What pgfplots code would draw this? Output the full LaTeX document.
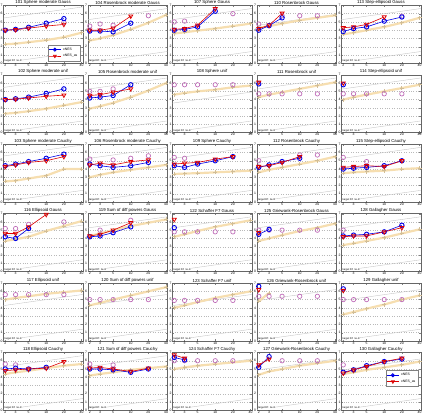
\documentclass[border=0pt]{standalone}
\usepackage{fontspec}
\setmainfont{Liberation Sans}
\usepackage{pgfplots}
\pgfplotsset{compat=1.18}
\usepgfplotslibrary{groupplots}
\definecolor{cblue}{RGB}{0,0,230}
\definecolor{cred}{RGB}{220,0,0}
\definecolor{cwheat}{RGB}{246,222,176}
\definecolor{chol}{RGB}{170,60,160}
\newcommand{\pG}[2]{\addplot[gray!45, thin, forget plot] coordinates {(1.85,0.07)(42,1.42)};
  \addplot[gray!45, thin, forget plot] coordinates {(1.85,#1)(42,#2)};}
\newcommand{\pW}[1]{\addplot[cwheat, line width=2.2pt, mark=+, mark size=2pt, mark options={solid, line width=0.8pt, color=cwheat!85!black}, forget plot] coordinates {#1};}
\newcommand{\pH}[1]{\addplot[only marks, mark=o, mark size=2.2pt, chol!75, line width=0.7pt, forget plot] coordinates {#1};}
\newcommand{\pB}[1]{\addplot[cblue, line width=0.6pt, mark=o, mark size=2.2pt, mark options={solid, line width=0.9pt}] coordinates {#1};}
\newcommand{\pR}[1]{\addplot[cred, line width=0.6pt, mark=triangle, mark size=2.3pt, mark options={solid, rotate=180, line width=0.8pt}] coordinates {#1};}
\newcommand{\pT}{\node[anchor=south west, inner sep=0.3pt, font=\fontsize{2.6}{3}\selectfont, fill=white] at (rel axis cs:0.01,0.005) {target Df: 1e-8};}
\begin{document}
\begin{tikzpicture}
\begin{groupplot}[
  group style={group size=5 by 6, horizontal sep=5bp, vertical sep=11.5bp},
  scale only axis, width=79bp, height=57.5bp,
  xmode=log, xmin=1.85, xmax=42, ymin=0, ymax=7,
  xtick={2,3,5,10,20,40}, xticklabels={2,3,5,10,20,40},
  ytick={0,1,2,3,4,5,6,7}, minor xtick={},
  /pgf/number format/assume math mode=true,
  tick label style={font=\fontsize{3.4}{4}\selectfont, inner sep=0.6pt},
  title style={font=\fontsize{4.3}{5}\selectfont, inner sep=0.4pt, yshift=-5.6pt},
  ymajorgrids, major grid style={gray!55, dotted, thin},
  tick align=inside, major tick length=1.5pt,
  axis line style={gray!80!black, thin},
  legend style={font=\fontsize{3.4}{4}\selectfont, inner sep=0.8pt, row sep=-1.5pt, legend cell align=left, draw=gray},
  legend image post style={scale=0.7},
]
% ---------- Row 1
\nextgroupplot[title={101 Sphere moderate Gauss}, legend style={at={(0.97,0.04)}, anchor=south east}]
\pG{5.47}{6.82}
\pW{(2,2.3)(3,2.37)(5,2.55)(10,2.8)(20,3.15)(40,3.7)}
\pH{(20,4.95)}
\pB{(2,4.0)(3,4.1)(5,4.35)(10,4.85)(20,5.4)}
\pR{(2,4.0)(3,4.05)(5,4.25)(10,4.5)(20,4.7)}
\legend{xNES, xNES\_as}
\pT
\nextgroupplot[title={104 Rosenbrock moderate Gauss}]
\pG{5.27}{6.62}
\pW{(2,2.75)(3,3.0)(5,3.4)(10,4.1)(20,4.9)(40,5.85)}
\pH{(2,4.5)(3,4.75)(5,4.6)(20,5.75)}
\pB{(2,3.9)(3,3.9)(5,3.8)(10,4.85)}
\pR{(2,4.0)(3,4.0)(5,4.25)(10,5.7)}
\pT
\nextgroupplot[title={107 Sphere Gauss}]
\pG{5.27}{6.62}
\pW{(2,3.6)(3,3.75)(5,3.95)(10,4.2)(20,4.5)(40,4.8)}
\pH{(2,5.0)(3,5.1)(20,6.0)}
\pB{(2,4.0)(3,4.1)(5,4.4)(10,6.3)}
\pR{(2,4.1)(3,4.2)(5,4.6)(10,6.6)}
\pT
\nextgroupplot[title={110 Rosenbrock Gauss}]
\pG{4.57}{5.92}
\pW{(2,4.3)(3,4.5)(5,4.8)(10,5.2)(20,5.5)(40,5.8)}
\pH{(2,4.75)(5,5.75)(10,5.75)(20,5.75)}
\pB{(2,4.0)(3,4.55)(5,5.5)}
\pR{(2,4.2)(3,4.6)(5,6.05)}
\pT
\nextgroupplot[title={113 Step-ellipsoid Gauss}]
\pG{5.27}{6.62}
\pW{(2,3.5)(3,3.7)(5,4.0)(10,4.4)(20,4.9)(40,5.5)}
\pH{(20,5.7)}
\pB{(2,3.85)(3,4.2)(5,4.4)(10,5.1)(20,5.6)}
\pR{(2,4.3)(3,4.4)(5,4.7)(10,5.6)}
\pT
% ---------- Row 2
\nextgroupplot[title={102 Sphere moderate unif}]
\pG{5.47}{6.82}
\pW{(2,2.3)(3,2.4)(5,2.6)(10,2.9)(20,3.3)(40,3.7)}
\pB{(2,4.0)(3,4.1)(5,4.3)(10,4.75)(20,5.3)}
\pR{(2,4.0)(3,4.05)(5,4.2)(10,4.4)(20,4.55)}
\pT
\nextgroupplot[title={105 Rosenbrock moderate unif}]
\pG{5.27}{6.62}
\pW{(2,2.9)(3,3.2)(5,3.6)(10,4.3)(20,5.1)(40,6.0)}
\pH{(2,5.0)(3,5.0)(5,5.3)}
\pB{(2,4.2)(3,4.3)(5,4.5)(10,5.8)}
\pR{(2,4.5)(3,4.6)(5,4.9)(10,5.3)}
\pT
\nextgroupplot[title={108 Sphere unif}]
\pG{3.57}{4.92}
\pW{(2,4.6)(3,4.8)(5,5.0)(10,5.2)(20,5.5)(40,5.7)}
\pH{(2,5.8)(3,5.8)(5,5.8)(10,5.8)(20,5.8)}
\pT
\nextgroupplot[title={111 Rosenbrock unif}]
\pG{5.27}{6.62}
\pW{(2,4.3)(3,4.6)(5,4.9)(10,5.3)(20,5.7)(40,6.1)}
\pH{(2,4.7)(3,4.7)(5,4.7)(10,4.7)(20,4.7)}
\pB{(2,5.9)}
\pR{(2,6.1)}
\pT
\nextgroupplot[title={114 Step-ellipsoid unif}]
\pG{5.27}{6.62}
\pW{(2,4.0)(3,4.3)(5,4.6)(10,5.0)(20,5.4)(40,5.8)}
\pH{(2,4.7)(3,4.7)(5,4.7)(10,4.7)(20,4.7)}
\pB{(2,5.8)}
\pR{(2,6.0)}
\pT
% ---------- Row 3
\nextgroupplot[title={103 Sphere moderate Cauchy}]
\pG{5.57}{6.92}
\pW{(2,2.5)(3,2.6)(5,2.85)(10,3.2)(20,4.0)(40,4.0)}
\pB{(2,4.4)(3,4.6)(5,4.9)(10,5.3)(20,5.8)}
\pR{(2,4.3)(3,4.5)(5,4.8)(10,5.0)(20,5.5)}
\pT
\nextgroupplot[title={106 Rosenbrock moderate Cauchy}]
\pG{5.27}{6.62}
\pW{(2,3.0)(3,3.3)(5,3.6)(10,3.9)(20,4.2)(40,4.5)}
\pH{(2,5.2)(5,5.1)(10,5.3)(20,5.6)}
\pB{(2,4.6)(3,4.4)(5,4.2)(10,4.4)(20,4.8)}
\pR{(2,4.5)(3,4.7)(5,4.5)(10,4.9)(20,5.1)}
\pT
\nextgroupplot[title={109 Sphere Cauchy}]
\pG{5.27}{6.62}
\pW{(2,3.4)(3,3.45)(5,3.5)(10,3.6)(20,3.7)(40,3.8)}
\pH{(2,5.4)(3,5.3)}
\pB{(2,4.4)(3,4.2)(5,4.6)(10,5.0)(20,5.5)}
\pR{(2,4.6)(3,4.7)(5,4.8)(10,5.2)(20,5.5)}
\pT
\nextgroupplot[title={112 Rosenbrock Cauchy}]
\pG{5.27}{6.62}
\pW{(2,3.6)(3,3.9)(5,4.2)(10,4.6)(20,5.0)(40,5.5)}
\pH{(2,5.0)(10,5.7)(20,5.7)}
\pB{(2,4.2)(3,4.5)(5,4.9)(10,5.3)}
\pR{(2,4.3)(3,4.4)(5,4.8)(10,5.5)}
\pT
\nextgroupplot[title={115 Step-ellipsoid Cauchy}]
\pG{5.27}{6.62}
\pW{(2,3.5)(3,3.6)(5,3.7)(10,3.8)(20,4.0)(40,4.1)}
\pH{(2,5.4)(5,4.9)}
\pB{(2,4.0)(3,4.1)(5,4.2)(10,4.4)(20,5.0)}
\pR{(2,4.2)(3,4.3)(5,4.4)(10,4.3)(20,5.0)}
\pT
% ---------- Row 4
\nextgroupplot[title={116 Ellipsoid Gauss}]
\pG{4.27}{5.62}
\pW{(2,3.7)(3,3.9)(5,4.2)(10,4.9)(20,5.5)(40,6.1)}
\pH{(2,5.2)(3,5.2)(5,5.7)(20,6.0)}
\pB{(2,4.2)(3,4.0)(5,5.2)}
\pR{(2,4.6)(3,4.6)(5,5.4)(10,6.9)}
\pT
\nextgroupplot[title={119 Sum of diff powers Gauss}]
\pG{5.27}{6.62}
\pW{(2,4.3)(3,4.6)(5,5.0)(10,5.5)(20,5.9)(40,6.3)}
\pH{(3,5.0)(10,6.2)}
\pB{(2,4.2)(3,4.3)(5,4.7)(10,5.4)}
\pR{(2,4.3)(3,4.5)(5,5.0)(10,5.9)}
\pT
\nextgroupplot[title={122 Schaffer F7 Gauss}]
\pG{5.27}{6.62}
\pW{(2,4.2)(3,4.5)(5,4.9)(10,5.4)(20,5.8)(40,6.2)}
\pH{(2,4.8)(3,4.8)(5,4.8)(10,4.8)(20,4.8)}
\pB{(2,5.3)}
\pR{(2,6.3)}
\pT
\nextgroupplot[title={125 Griewank-Rosenbrock Gauss}]
\pG{5.27}{6.62}
\pW{(2,3.7)(3,4.0)(5,4.4)(10,4.9)(20,5.3)(40,5.8)}
\pH{(2,5.0)(3,5.0)(5,5.0)(10,5.0)(20,5.0)}
\pB{(2,4.5)(3,5.1)}
\pR{(2,4.7)}
\pT
\nextgroupplot[title={128 Gallagher Gauss}]
\pG{5.27}{6.62}
\pW{(2,3.2)(3,3.4)(5,3.7)(10,4.1)(20,4.6)(40,5.1)}
\pH{(2,5.0)}
\pB{(2,4.3)(3,4.4)(5,4.5)(10,4.8)(20,5.6)}
\pR{(2,4.2)(3,4.3)(5,4.3)(10,4.8)(20,5.3)}
\pT
% ---------- Row 5
\nextgroupplot[title={117 Ellipsoid unif}]
\pG{4.27}{5.62}
\pW{(2,5.0)(3,5.2)(5,5.4)(10,5.7)(20,5.9)(40,6.1)}
\pH{(2,5.6)(3,5.6)(5,5.6)(10,5.6)(20,5.6)}
\pT
\nextgroupplot[title={120 Sum of diff powers unif}]
\pG{4.27}{5.62}
\pW{(2,4.3)(3,4.6)(5,5.0)(10,5.5)(20,6.0)(40,6.5)}
\pH{(2,5.0)(3,5.0)(5,5.0)(10,5.0)(20,5.0)}
\pT
\nextgroupplot[title={123 Schaffer F7 unif}]
\pG{4.27}{5.62}
\pW{(2,4.0)(3,4.3)(5,4.7)(10,5.2)(20,5.6)(40,6.0)}
\pH{(2,4.9)(3,4.9)(5,4.9)(10,4.9)(20,4.9)}
\pT
\nextgroupplot[title={126 Griewank-Rosenbrock unif}]
\pG{4.87}{6.22}
\pW{(2,4.8)(3,5.8)}
\pH{(2,5.4)(3,5.4)(5,5.4)(10,5.4)(20,5.4)}
\pB{(2,6.6)}
\pR{(2,6.2)}
\pT
\nextgroupplot[title={129 Gallagher unif}]
\pG{4.87}{6.22}
\pW{(2,3.2)(3,3.5)(5,3.9)(10,4.4)(20,5.0)(40,5.5)}
\pH{(2,5.0)(3,5.0)(5,5.0)(10,5.0)(20,5.0)}
\pB{(2,6.3)}
\pR{(2,6.1)}
\pT
% ---------- Row 6
\nextgroupplot[title={118 Ellipsoid Cauchy}]
\pG{5.27}{6.62}
\pW{(2,4.4)(3,4.6)(5,4.8)(10,5.1)(20,5.4)(40,5.6)}
\pH{(2,5.6)(3,5.5)}
\pB{(2,5.0)(3,5.1)(5,5.0)(10,5.2)}
\pR{(2,4.8)(3,4.9)(5,5.0)(10,5.1)(20,5.9)}
\pT
\nextgroupplot[title={121 Sum of diff powers Cauchy}]
\pG{5.27}{6.62}
\pW{(2,4.2)(3,4.4)(5,4.6)(10,4.9)(20,5.1)(40,5.3)}
\pH{(2,5.6)(5,5.5)}
\pB{(2,5.0)(3,5.0)(5,4.9)(10,4.6)(20,5.0)}
\pR{(2,5.1)(3,5.2)(5,5.0)(10,4.7)(20,5.1)}
\pT
\nextgroupplot[title={124 Schaffer F7 Cauchy}]
\pG{4.87}{6.22}
\pW{(2,5.0)(3,5.2)(5,5.4)(10,5.6)(20,5.8)(40,6.0)}
\pH{(2,6.0)(3,6.0)(5,6.0)(10,6.0)(20,6.0)}
\pB{(2,6.4)(3,6.1)}
\pR{(2,6.7)(3,6.3)}
\pT
\nextgroupplot[title={127 Griewank-Rosenbrock Cauchy}]
\pG{4.87}{6.22}
\pW{(2,4.3)(3,4.7)(5,5.0)(10,5.4)(20,5.7)(40,6.0)}
\pH{(5,6.0)(10,6.0)(20,6.0)}
\pB{(2,5.2)(3,6.5)}
\pR{(2,5.5)(3,6.2)}
\pT
\nextgroupplot[title={130 Gallagher Cauchy}, legend style={at={(0.97,0.55)}, anchor=east}]
\pG{4.87}{6.22}
\pW{(2,4.4)(3,4.6)(5,4.9)(10,5.2)(20,5.5)(40,5.9)}
\pH{(2,5.5)}
\pB{(2,4.6)(3,4.9)(5,5.4)(10,5.9)(20,6.2)}
\pR{(2,4.5)(3,4.9)(5,5.3)(10,5.9)(20,6.3)}
\legend{xNES, xNES\_as}
\pT
\end{groupplot}
\end{tikzpicture}
\end{document}
